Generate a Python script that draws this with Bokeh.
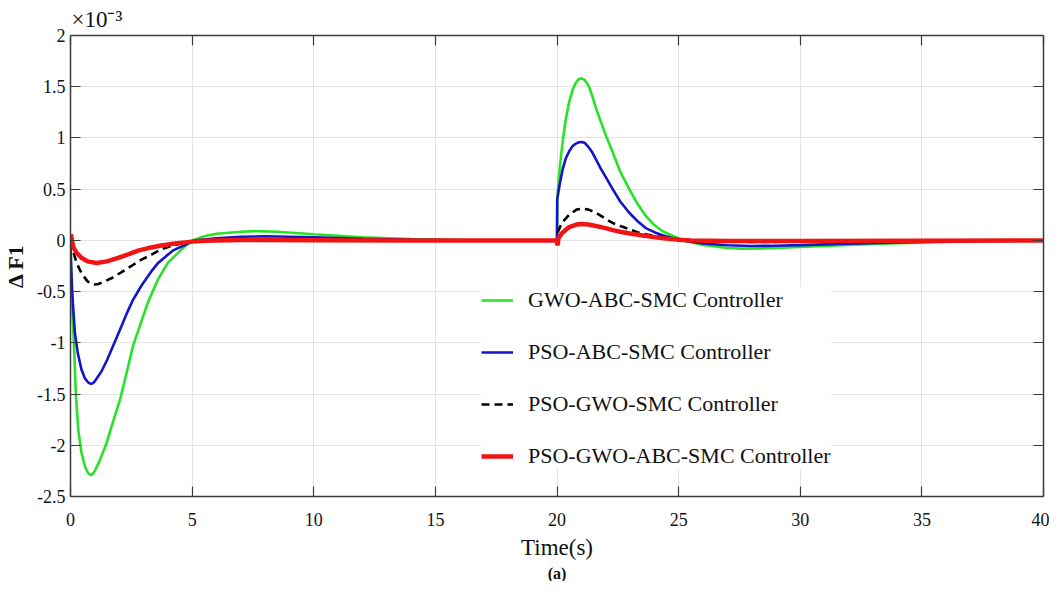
from bokeh.plotting import figure
from bokeh.models import (LinearAxis, FixedTicker, Legend, LegendItem,
                          Title, Range1d)
from bokeh.embed import file_html
from bokeh.resources import INLINE

FONT = "Liberation Serif"

# ---------------- data (values in units of 1e-3) ----------------
x_ticks = [0, 5, 10, 15, 20, 25, 30, 35, 40]
y_ticks = [-2.5, -2, -1.5, -1, -0.5, 0, 0.5, 1, 1.5, 2]
y_tick_labels = ["-2.5", "-2", "-1.5", "-1", "-0.5", "0", "0.5", "1", "1.5", "2"]

series_names = ["GWO-ABC-SMC Controller", "PSO-ABC-SMC Controller",
                "PSO-GWO-SMC Controller", "PSO-GWO-ABC-SMC Controller"]

t_gwo_abc = [0, 0.02, 0.06, 0.14, 0.22, 0.32, 0.45, 0.6, 0.72, 0.83, 0.92, 1.0,
             1.2, 1.48, 1.75, 2.03, 2.3, 2.57, 2.9, 3.19, 3.6, 4.0, 4.56, 5.0,
             5.5, 6.0, 7.0, 7.6, 8.5, 10, 12, 14, 16, 18, 20, 20.01, 20.12,
             20.23, 20.36, 20.5, 20.64, 20.78, 20.9, 21.0, 21.12, 21.3, 21.45,
             21.6, 21.8, 22.0, 22.29, 22.6, 22.97, 23.3, 23.65, 24.0, 24.34,
             24.7, 25.0, 25.3, 26, 27, 27.6, 28.5, 30, 32, 34, 36, 38, 40]
v_gwo_abc = [0, -0.3, -0.6, -1.0, -1.5, -1.85, -2.07, -2.21, -2.27, -2.29,
             -2.28, -2.25, -2.15, -1.98, -1.77, -1.56, -1.30, -1.03, -0.80,
             -0.60, -0.38, -0.22, -0.09, 0.0, 0.04, 0.065, 0.085, 0.09, 0.085,
             0.06, 0.03, 0.012, 0.004, 0.001, 0, 0.42, 0.72, 0.96, 1.18, 1.35,
             1.47, 1.54, 1.575, 1.58, 1.57, 1.51, 1.41, 1.29, 1.16, 1.03, 0.86,
             0.67, 0.50, 0.36, 0.24, 0.15, 0.09, 0.05, 0.02, -0.005, -0.045,
             -0.075, -0.08, -0.078, -0.065, -0.045, -0.028, -0.015, -0.006,
             -0.002]

t_pso_abc = [0, 0.02, 0.06, 0.1, 0.18, 0.3, 0.45, 0.6, 0.72, 0.83, 0.92, 1.0,
             1.27, 1.5, 1.75, 2.09, 2.3, 2.57, 2.92, 3.3, 3.6, 4.2, 4.83, 5.2,
             6, 7, 8, 9, 10, 12, 14, 16, 18, 20, 20.01, 20.12, 20.23, 20.36,
             20.5, 20.64, 20.78, 20.9, 21.03, 21.15, 21.3, 21.45, 21.6, 21.8,
             22.0, 22.29, 22.6, 22.97, 23.3, 23.65, 24.0, 24.34, 24.7, 25.0,
             25.3, 26, 27, 28, 29, 30, 32, 34, 36, 38, 40]
v_pso_abc = [0, -0.2, -0.45, -0.62, -0.9, -1.1, -1.26, -1.35, -1.385, -1.40,
             -1.395, -1.375, -1.28, -1.17, -1.03, -0.84, -0.72, -0.58, -0.44,
             -0.31, -0.22, -0.10, -0.03, 0.0, 0.02, 0.035, 0.04, 0.035, 0.03,
             0.015, 0.006, 0.002, 0.0, 0, 0.40, 0.56, 0.69, 0.80, 0.87, 0.92,
             0.945, 0.958, 0.96, 0.95, 0.91, 0.86, 0.79, 0.70, 0.62, 0.50,
             0.38, 0.27, 0.19, 0.12, 0.08, 0.05, 0.025, 0.01, -0.005, -0.03,
             -0.048, -0.055, -0.052, -0.046, -0.032, -0.02, -0.011, -0.005,
             -0.002]

t_pso_gwo = [0, 0.05, 0.1, 0.25, 0.45, 0.7, 0.85, 1.0, 1.15, 1.3, 1.68, 2.1,
             2.5, 2.9, 3.33, 3.7, 4.15, 4.6, 5, 5.5, 7, 9, 12, 16, 20, 20.03,
             20.2, 20.5, 20.8, 21.05, 21.3, 21.6, 22.0, 22.29, 22.6, 22.97,
             23.3, 23.65, 24.0, 24.34, 24.7, 25.0, 25.5, 26.5, 28, 30, 33, 36,
             40]
v_pso_gwo = [0, -0.05, -0.1, -0.22, -0.32, -0.40, -0.42, -0.43, -0.425, -0.41,
             -0.37, -0.31, -0.25, -0.19, -0.14, -0.09, -0.055, -0.025, -0.01,
             0.0, 0.01, 0.01, 0.005, 0.0, 0, 0.08, 0.17, 0.25, 0.30, 0.31, 0.30,
             0.27, 0.21, 0.17, 0.14, 0.11, 0.08, 0.06, 0.045, 0.03, 0.017,
             0.008, 0.0, -0.01, -0.015, -0.013, -0.008, -0.004, -0.001]

t_pso_gwo_abc = [0, 0.02, 0.06, 0.12, 0.25, 0.45, 0.7, 1.07, 1.5, 1.96, 2.4,
                 2.78, 3.2, 3.74, 4.3, 5.0, 5.5, 7, 10, 14, 20, 20.02, 20.06,
                 20.2, 20.5, 20.8, 21.0, 21.3, 21.6, 22.0, 22.3, 22.6, 23.0,
                 23.6, 24.3, 25.0, 25.5, 27, 30, 35, 40]
v_pso_gwo_abc = [0, 0.06, 0.0, -0.07, -0.12, -0.17, -0.205, -0.22, -0.205,
                 -0.17, -0.135, -0.10, -0.075, -0.05, -0.03, -0.012, -0.003,
                 0.003, 0.002, 0.0, 0, -0.05, 0.02, 0.07, 0.13, 0.155, 0.16,
                 0.155, 0.14, 0.12, 0.10, 0.085, 0.068, 0.045, 0.022, 0.006,
                 0.0, -0.006, -0.006, -0.003, 0]

exponent_text = "\u00d710\u207b\u00b3"

# ---------------- figure ----------------
p = figure(width=1049, height=581, output_backend="svg", toolbar_location=None,
           x_range=Range1d(0, 40), y_range=Range1d(-2.5, 2),
           min_border_left=61, min_border_right=6, min_border_top=29,
           min_border_bottom=60)
p.outline_line_color = None
p.background_fill_color = "white"

p.title.text = exponent_text
p.title.align = "left"
p.title.offset = 1
p.title.standoff = 8
p.title.text_font = FONT
p.title.text_font_size = "23px"
p.title.text_font_style = "normal"
p.title.text_color = "#111111"

grid_color = "#e3e3e3"
p.xgrid.ticker = FixedTicker(ticks=x_ticks)
p.ygrid.ticker = FixedTicker(ticks=y_ticks)
p.xgrid.grid_line_color = grid_color
p.ygrid.grid_line_color = grid_color


def style_axis(ax, ticks, show_labels=True):
    ax.ticker = FixedTicker(ticks=ticks)
    ax.axis_line_color = "#3c3c3c"
    ax.axis_line_width = 1.5
    ax.major_tick_line_color = "#3c3c3c"
    ax.major_tick_line_width = 1.2
    ax.major_tick_in = 10
    ax.major_tick_out = 0
    ax.minor_tick_line_color = None
    ax.major_label_text_font = FONT
    ax.major_label_text_color = "#111111"
    if show_labels:
        ax.major_label_text_font_size = "18px"
        ax.major_label_standoff = 16
    else:
        ax.major_label_text_font_size = "0px"
        ax.major_label_standoff = 0
        ax.major_label_overrides = {t: "" for t in ticks}


xa = p.xaxis[0]
style_axis(xa, x_ticks)
xa.axis_label = "Time(s)"
xa.axis_label_text_font = FONT
xa.axis_label_text_font_style = "normal"
xa.axis_label_text_font_size = "23px"
xa.axis_label_text_color = "#111111"
xa.axis_label_standoff = 6

ya = p.yaxis[0]
style_axis(ya, y_ticks)
ya.major_label_overrides = {t: s for t, s in zip(y_ticks, y_tick_labels)}
ya.major_label_standoff = 5
ya.axis_label = "\u0394 F1"
ya.axis_label_text_font = FONT
ya.axis_label_text_font_style = "bold"
ya.axis_label_text_font_size = "22px"
ya.axis_label_text_color = "#111111"
ya.axis_label_standoff = 6

top_ax = LinearAxis()
style_axis(top_ax, x_ticks, show_labels=False)
p.add_layout(top_ax, "above")
right_ax = LinearAxis()
style_axis(right_ax, y_ticks, show_labels=False)
p.add_layout(right_ax, "right")

# ---------------- lines ----------------
r_g = p.line(t_gwo_abc, v_gwo_abc, line_color="#26e326", line_width=2.6)
r_b = p.line(t_pso_abc, v_pso_abc, line_color="#1414c8", line_width=2.6)
r_k = p.line(t_pso_gwo, v_pso_gwo, line_color="black", line_width=2.6,
             line_dash="8 5")
r_r = p.line(t_pso_gwo_abc, v_pso_gwo_abc, line_color="#f01414", line_width=4.5)

legend = Legend(items=[LegendItem(label=series_names[0], renderers=[r_g]),
                       LegendItem(label=series_names[1], renderers=[r_b]),
                       LegendItem(label=series_names[2], renderers=[r_k]),
                       LegendItem(label=series_names[3], renderers=[r_r])],
                location=(411, 27))
legend.label_text_font = FONT
legend.label_text_font_size = "22px"
legend.label_text_color = "#111111"
legend.glyph_width = 32
legend.glyph_height = 20
legend.label_height = 22
legend.spacing = 26
legend.padding = 10
legend.margin = 0
legend.label_standoff = 15
legend.border_line_color = None
legend.background_fill_color = "white"
legend.background_fill_alpha = 1.0
p.add_layout(legend)

p.add_layout(Title(text="(a)", align="center", text_font=FONT,
                   text_font_size="16px", text_font_style="bold",
                   text_color="#111111", standoff=0), "below")

open("out.html", "w").write(file_html(p, INLINE))
